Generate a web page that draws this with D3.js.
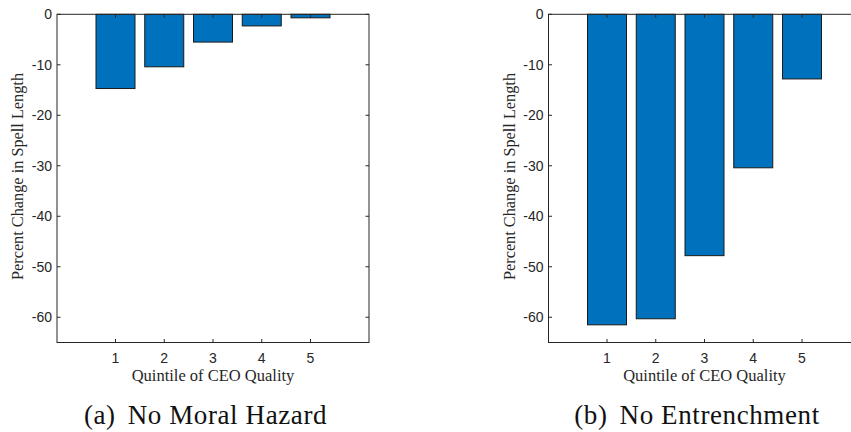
<!DOCTYPE html>
<html><head><meta charset="utf-8">
<script src="https://cdn.jsdelivr.net/npm/d3@7"></script>
<style>body{margin:0;background:#fff}svg{display:block}</style>
</head><body>
<svg id="c" width="851" height="432"></svg>
<script>
const categories = [1, 2, 3, 4, 5];
const noMoralHazard = [-14.7, -10.4, -5.5, -2.3, -0.7];
const noEntrenchment = [-61.5, -60.3, -47.8, -30.4, -12.8];
const yTicks = [0, -10, -20, -30, -40, -50, -60];
const panels = [
  {label: "(a)", title: "No Moral Hazard", values: noMoralHazard, left: 57, right: 369},
  {label: "(b)", title: "No Entrenchment", values: noEntrenchment, left: 548.5, right: 860.5}
];
const svg = d3.select("#c");
const plotTop = 14.3, plotBottom = 342.5;
const axisCol = "#262626";
panels.forEach(p => {
  const g = svg.append("g");
  const x = d3.scaleLinear().domain([-0.2, 6.2]).range([p.left, p.right]);
  const y = d3.scaleLinear().domain([-65, 0]).range([plotBottom, plotTop]);
  const bw = x(0.8) - x(0);
  g.selectAll("rect.bar").data(p.values).join("rect")
    .attr("x", (d, i) => x(categories[i]) - bw / 2)
    .attr("y", y(0))
    .attr("width", bw)
    .attr("height", d => y(d) - y(0))
    .attr("fill", "#0072BD")
    .attr("stroke", "#1a1a1a")
    .attr("stroke-width", 1);
  g.append("rect").attr("x", p.left).attr("y", plotTop).attr("width", p.right - p.left).attr("height", plotBottom - plotTop)
    .attr("fill", "none").attr("stroke", axisCol).attr("stroke-width", 1);
  const yt = g.append("g").attr("font-family", "Liberation Sans, Arial, sans-serif").attr("font-size", 14).attr("fill", axisCol);
  yTicks.forEach(t => {
    g.append("line").attr("x1", p.left).attr("x2", p.left + 3.5).attr("y1", y(t)).attr("y2", y(t)).attr("stroke", axisCol);
    g.append("line").attr("x1", p.right).attr("x2", p.right - 3.5).attr("y1", y(t)).attr("y2", y(t)).attr("stroke", axisCol);
    yt.append("text").attr("x", p.left - 5).attr("y", y(t)).attr("dy", "0.36em").attr("text-anchor", "end").text(t);
  });
  const xt = g.append("g").attr("font-family", "Liberation Sans, Arial, sans-serif").attr("font-size", 14).attr("fill", axisCol);
  categories.forEach(c => {
    g.append("line").attr("x1", x(c)).attr("x2", x(c)).attr("y1", plotBottom).attr("y2", plotBottom - 3.5).attr("stroke", axisCol);
    g.append("line").attr("x1", x(c)).attr("x2", x(c)).attr("y1", plotTop).attr("y2", plotTop + 3.5).attr("stroke", axisCol);
    xt.append("text").attr("x", x(c)).attr("y", plotBottom + 20).attr("text-anchor", "middle").text(c);
  });
  const mid = x(3);
  g.append("text").attr("x", mid).attr("y", plotBottom + 38.5).attr("text-anchor", "middle")
    .attr("font-family", "Liberation Serif, Times New Roman, serif").attr("font-size", 16.5).attr("fill", axisCol)
    .text("Quintile of CEO Quality");
  g.append("text").attr("transform", `translate(${p.left - 34},${176.5}) rotate(-90)`)
    .attr("text-anchor", "middle")
    .attr("font-family", "Liberation Serif, Times New Roman, serif").attr("font-size", 16.3).attr("fill", axisCol)
    .text("Percent Change in Spell Length");
  const st = g.append("text").attr("x", mid - 7.5).attr("y", 424).attr("text-anchor", "middle")
    .attr("font-family", "Liberation Serif, Times New Roman, serif").attr("font-size", 27)
    .attr("letter-spacing", 0.6).attr("fill", "#111");
  st.append("tspan").text(p.label);
  st.append("tspan").attr("dx", 12).text(p.title);
});
</script>
</body></html>
